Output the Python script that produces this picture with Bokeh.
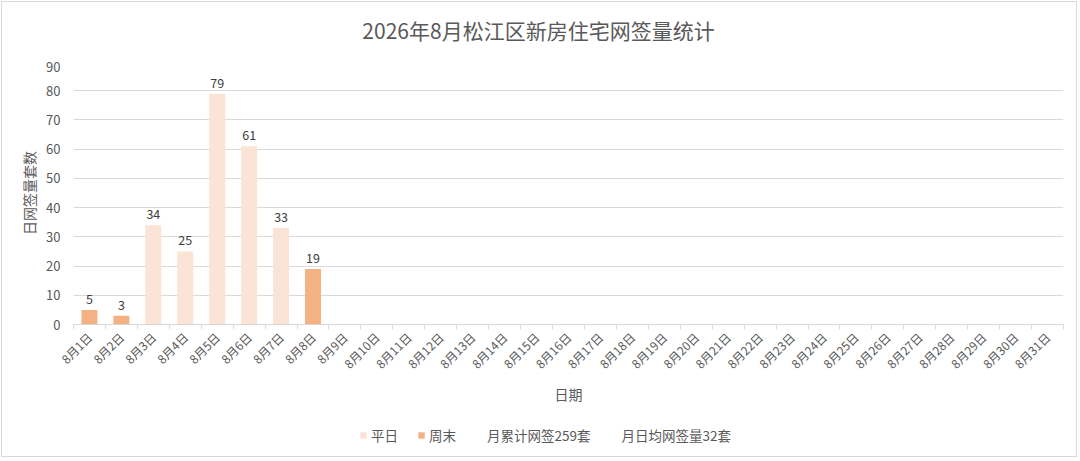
from bokeh.plotting import figure
from bokeh.layouts import column
from bokeh.models import Range1d, FixedTicker, Legend, LegendItem, ColumnDataSource, LabelSet, Label
from bokeh.core.properties import value
from bokeh.embed import file_html
from bokeh.resources import INLINE
import math

title = "2026年8月松江区新房住宅网签量统计"
day_numbers = list(range(1, 32))
day_labels = [f"8月{d}日" for d in day_numbers]

weekday_days = [3, 4, 5, 6, 7]
weekday_vals = [34, 25, 79, 61, 33]
weekend_days = [1, 2, 8]
weekend_vals = [5, 3, 19]

legend_names = ["平日", "周末", "月累计网签259套", "月日均网签量32套"]
y_ticks = [0, 10, 20, 30, 40, 50, 60, 70, 80, 90]

FONT = "Noto Sans CJK SC"
TXT = "#595959"
GRID = "#d9d9d9"
C_WEEKDAY = "#FBE3D6"
C_WEEKEND = "#F4B183"


def strip(height):
    s = figure(width=1074, height=height, output_backend="svg", toolbar_location=None,
               x_axis_location=None, y_axis_location=None,
               x_range=Range1d(0, 1), y_range=Range1d(0, 1),
               min_border_left=0, min_border_right=0, min_border_top=0, min_border_bottom=0)
    s.grid.visible = False
    s.outline_line_color = None
    s.border_fill_color = "white"
    s.background_fill_color = "white"
    s.title.visible = False
    return s


# title strip
t = strip(59)
t.add_layout(Label(x=465, y=32, x_units="screen", y_units="screen", text=title,
                   text_align="center", text_baseline="middle", text_font=FONT,
                   text_font_size="21px", text_color=TXT))

# main chart
p = figure(width=1074, height=345, output_backend="svg", toolbar_location=None,
           x_range=Range1d(0.5, 31.5), y_range=Range1d(0, 90),
           min_border_left=71, min_border_right=13, min_border_top=0, min_border_bottom=80)
p.outline_line_color = None
p.background_fill_color = "white"
p.border_fill_color = "white"
p.title.visible = False
p.title.standoff = 0
p.title.text_font_size = "0px"

wk = ColumnDataSource(dict(x=weekday_days, y=weekday_vals))
we = ColumnDataSource(dict(x=weekend_days, y=weekend_vals))
p.vbar(x="x", top="y", width=0.5, source=wk, fill_color=C_WEEKDAY, line_color=None)
p.vbar(x="x", top="y", width=0.5, source=we, fill_color=C_WEEKEND, line_color=None)

for src in (wk, we):
    lab = LabelSet(x="x", y="y", text="y", source=src, text_align="center", text_baseline="bottom",
                   y_offset=6, text_font=value(FONT), text_font_size="12.5px", text_color="#404040")
    p.add_layout(lab)

# x axis
p.xaxis.ticker = FixedTicker(ticks=day_numbers, minor_ticks=[d - 0.5 for d in day_numbers] + [31.5])
p.xaxis.major_label_overrides = {d: l for d, l in zip(day_numbers, day_labels)}
p.xaxis.major_label_orientation = math.pi / 4
p.xaxis.major_tick_line_color = None
p.xaxis.minor_tick_line_color = GRID
p.xaxis.minor_tick_out = 5
p.xaxis.minor_tick_in = 0
p.xaxis.axis_line_color = GRID
p.xaxis.major_label_text_font = FONT
p.xaxis.major_label_text_font_size = "12px"
p.xaxis.major_label_text_color = TXT
p.xaxis.major_label_standoff = 4
p.xaxis.axis_label = "日期"
p.xaxis.axis_label_text_font = FONT
p.xaxis.axis_label_text_font_size = "14px"
p.xaxis.axis_label_text_font_style = "normal"
p.xaxis.axis_label_text_color = TXT
p.xaxis.axis_label_standoff = 3

# y axis
p.yaxis.ticker = FixedTicker(ticks=y_ticks)
p.yaxis.major_tick_line_color = None
p.yaxis.minor_tick_line_color = None
p.yaxis.axis_line_color = None
p.yaxis.major_label_text_font = FONT
p.yaxis.major_label_text_font_size = "13px"
p.yaxis.major_label_text_color = TXT
p.yaxis.major_label_standoff = 7
p.yaxis.axis_label = "日网签量套数"
p.yaxis.axis_label_text_font = FONT
p.yaxis.axis_label_text_font_size = "14px"
p.yaxis.axis_label_text_font_style = "normal"
p.yaxis.axis_label_text_color = TXT
p.yaxis.axis_label_standoff = 4

p.xgrid.grid_line_color = None
p.ygrid.grid_line_color = GRID
p.ygrid.ticker = FixedTicker(ticks=y_ticks)

# legend strip
q = strip(50)
proxy = dict(x=[0], top=[0])
g1 = q.vbar(x="x", top="top", width=0.01, source=ColumnDataSource(proxy), fill_color=C_WEEKDAY, line_color=None)
g2 = q.vbar(x="x", top="top", width=0.01, source=ColumnDataSource(proxy), fill_color=C_WEEKEND, line_color=None)
g3 = q.vbar(x="x", top="top", width=0.01, source=ColumnDataSource(proxy), fill_alpha=0, line_alpha=0)
g4 = q.vbar(x="x", top="top", width=0.01, source=ColumnDataSource(proxy), fill_alpha=0, line_alpha=0)

legend = Legend(items=[LegendItem(label=n, renderers=[r]) for n, r in zip(legend_names, [g1, g2, g3, g4])],
                orientation="horizontal", location=(286, 11),
                glyph_width=8, glyph_height=8, spacing=19, label_standoff=4,
                label_text_font=FONT, label_text_font_size="13.5px", label_text_color=TXT,
                border_line_color=None, background_fill_alpha=0, margin=0, padding=4)
q.add_layout(legend)

layout = column(t, p, q, spacing=0)
layout.styles = {"border": "1px solid #d9d9d9", "margin-left": "1px", "margin-top": "1px"}

open("out.html", "w").write(file_html(layout, INLINE))
